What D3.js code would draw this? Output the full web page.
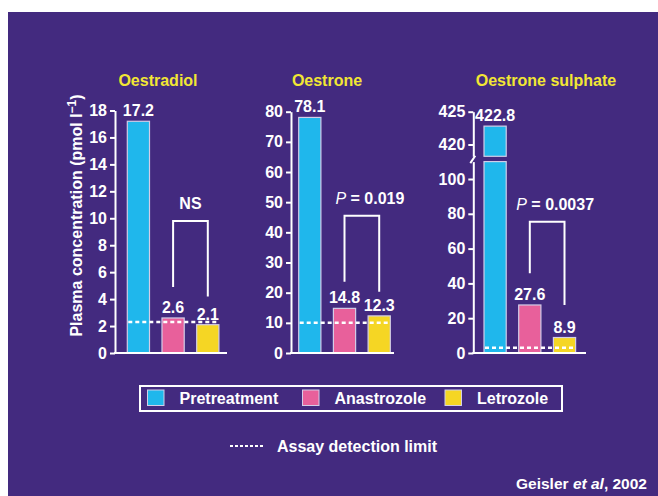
<!DOCTYPE html>
<html>
<head>
<meta charset="utf-8">
<script src="https://cdn.jsdelivr.net/npm/d3@7"></script>
<style>
  body { margin: 0; background: #fff; }
  text { font-family: "Liberation Sans", Arial, Helvetica, sans-serif; font-weight: bold; }
</style>
</head>
<body>
<svg id="chart" width="658" height="496"></svg>
<script>
// data
const categories = ["Pretreatment", "Anastrozole", "Letrozole"];
const hormones = ["Oestradiol", "Oestrone", "Oestrone sulphate"];
const oestradiol = [17.2, 2.6, 2.1];
const oestrone = [78.1, 14.8, 12.3];
const oestroneSulphate = [422.8, 27.6, 8.9];
const detectionLimit = [2.3, 10, 3];
const statLabels = ["NS", "0.019", "0.0037"];
const bracketTop = [9.8, 45.5, 75.5];
const bracketLegs = [[4.9, 4.2], [23.6, 20.3], [45.8, 27.6]];
const ticksOestradiol = [0, 2, 4, 6, 8, 10, 12, 14, 16, 18];
const ticksOestrone = [0, 10, 20, 30, 40, 50, 60, 70, 80];
const ticksSulphateLow = [0, 20, 40, 60, 80, 100];
const ticksSulphateHigh = [420, 425];

const colors = ["#1fb7ec", "#e8609b", "#f5d624"];
const bg = "#432a7f";

const svg = d3.select("#chart");
svg.append("rect").attr("x", 8).attr("y", 12).attr("width", 650).attr("height", 484).attr("fill", bg);

const y0 = 353;
// per panel layout
const layout = [
  { axisX: 115, barLeft: 127.3, baseEnd: 227, titleX: 158, y: d3.scaleLinear().domain([0, 18]).range([y0, 110.5]), ticks: ticksOestradiol, values: oestradiol },
  { axisX: 291, barLeft: 298.7, baseEnd: 394, titleX: 327, y: d3.scaleLinear().domain([0, 80]).range([y0, 111.7]), ticks: ticksOestrone, values: oestrone },
  { axisX: 473.3, barLeft: 484, baseEnd: 586, titleX: 546, y: d3.scaleLinear().domain([0, 110]).range([y0, 161.6]), ticks: ticksSulphateLow, values: oestroneSulphate,
    yHigh: d3.scaleLinear().domain([418.2, 425]).range([156.3, 111.7]), ticksHigh: ticksSulphateHigh }
];

function styleAxis(g) {
  g.select(".domain").attr("stroke", "#fff").attr("stroke-width", 2);
  g.selectAll(".tick line").attr("stroke", "#fff").attr("stroke-width", 2);
  g.selectAll(".tick text").attr("fill", "#fff").attr("font-size", "16px")
    .attr("font-family", "Liberation Sans, Arial, sans-serif").attr("font-weight", "bold");
}

layout.forEach(function(p, i) {
  const g = svg.append("g");
  const step = 34.7;
  const x = d3.scaleBand().domain(categories)
    .range([p.barLeft - 0.18 * step, p.barLeft - 0.18 * step + 3 * step])
    .paddingInner(0.36).paddingOuter(0.18);
  const yTop = function(v) { return (p.yHigh && v > p.y.domain()[1]) ? p.yHigh(v) : p.y(v); };

  // title
  g.append("text").attr("x", p.titleX).attr("y", 86).attr("text-anchor", "middle")
    .attr("fill", "#f2e634").attr("font-size", "16px").text(hormones[i]);

  // bars
  p.values.forEach(function(v, j) {
    if (p.yHigh && v > p.y.domain()[1]) {
      g.append("rect").attr("x", x(categories[j])).attr("width", x.bandwidth())
        .attr("y", p.y(p.y.domain()[1])).attr("height", y0 - p.y(p.y.domain()[1]))
        .attr("fill", colors[j]).attr("stroke", "#d2cde8").attr("stroke-width", 1.2);
      g.append("rect").attr("x", x(categories[j])).attr("width", x.bandwidth())
        .attr("y", p.yHigh(v)).attr("height", p.yHigh(p.yHigh.domain()[0]) - p.yHigh(v))
        .attr("fill", colors[j]).attr("stroke", "#d2cde8").attr("stroke-width", 1.2);
    } else {
      g.append("rect").attr("x", x(categories[j])).attr("width", x.bandwidth())
        .attr("y", p.y(v)).attr("height", y0 - p.y(v))
        .attr("fill", colors[j]).attr("stroke", "#d2cde8").attr("stroke-width", 1.2);
    }
    g.append("text").attr("x", x(categories[j]) + x.bandwidth() / 2).attr("y", yTop(v) - 5)
      .attr("text-anchor", "middle").attr("fill", "#fff").attr("font-size", "16px").text(v);
  });

  // detection limit
  g.append("line").attr("x1", x(categories[0]) + 1).attr("x2", x(categories[2]) + x.bandwidth())
    .attr("y1", p.y(detectionLimit[i])).attr("y2", p.y(detectionLimit[i]))
    .attr("stroke", "#fff").attr("stroke-width", 2.5).attr("stroke-dasharray", "4,3");

  // axes
  const ax = g.append("g").attr("transform", "translate(" + p.axisX + ",0)")
    .call(d3.axisLeft(p.y).tickValues(p.ticks).tickFormat(d3.format("d")).tickSize(5).tickSizeOuter(0).tickPadding(3));
  styleAxis(ax);
  if (p.yHigh) {
    const ax2 = g.append("g").attr("transform", "translate(" + p.axisX + ",0)")
      .call(d3.axisLeft(p.yHigh).tickValues(p.ticksHigh).tickFormat(d3.format("d")).tickSize(5).tickSizeOuter(0).tickPadding(3));
    styleAxis(ax2);
    g.append("line").attr("x1", p.axisX - 3).attr("x2", p.axisX + 2)
      .attr("y1", p.y(p.y.domain()[1]) + 1.5).attr("y2", p.yHigh(p.yHigh.domain()[0]) - 0.5)
      .attr("stroke", "#fff").attr("stroke-width", 2);
  }
  g.append("line").attr("x1", p.axisX - 1).attr("x2", p.baseEnd).attr("y1", y0).attr("y2", y0)
    .attr("stroke", "#fff").attr("stroke-width", 2);

  // bracket
  const bl = x(categories[1]) + x.bandwidth() / 2, br = x(categories[2]) + x.bandwidth() / 2;
  g.append("path").attr("fill", "none").attr("stroke", "#fff").attr("stroke-width", 2)
    .attr("d", "M" + bl + "," + p.y(bracketLegs[i][0]) + "V" + p.y(bracketTop[i]) + "H" + br + "V" + p.y(bracketLegs[i][1]));
  const st = g.append("text").attr("y", p.y(bracketTop[i]) - 11.5).attr("fill", "#fff")
    .attr("font-size", "16px").attr("text-anchor", "middle");
  if (statLabels[i] === "NS") {
    st.attr("x", (bl + br) / 2).text("NS");
  } else {
    st.attr("x", (bl + br) / 2 + 8);
    st.append("tspan").attr("font-style", "italic").attr("font-weight", "normal").text("P");
    st.append("tspan").text(" = " + statLabels[i]);
  }
});

// y axis title
const yt = svg.append("text").attr("transform", "translate(82,215.5) rotate(-90)")
  .attr("text-anchor", "middle").attr("fill", "#fff").attr("font-size", "16px");
yt.append("tspan").text("Plasma concentration (pmol l");
yt.append("tspan").attr("dy", -6).attr("font-size", "12px").text("\u22121");
yt.append("tspan").attr("dy", 6).text(")");

// legend
const legend = svg.append("g");
legend.append("rect").attr("x", 140).attr("y", 386).attr("width", 422).attr("height", 25)
  .attr("fill", "none").attr("stroke", "#fff").attr("stroke-width", 2);
const legendX = [147.5, 302.5, 445];
categories.forEach(function(c, j) {
  legend.append("rect").attr("x", legendX[j]).attr("y", 390).attr("width", 16.5).attr("height", 15.5)
    .attr("fill", colors[j]).attr("stroke", "#d2cde8").attr("stroke-width", 1);
  legend.append("text").attr("x", legendX[j] + 32).attr("y", 404).attr("fill", "#fff")
    .attr("font-size", "16px").text(c);
});
legend.append("line").attr("x1", 230).attr("x2", 265).attr("y1", 446).attr("y2", 446)
  .attr("stroke", "#fff").attr("stroke-width", 2).attr("stroke-dasharray", "3,2");
legend.append("text").attr("x", 277).attr("y", 451.5).attr("fill", "#fff").attr("font-size", "16px")
  .text("Assay detection limit");

// source
const src = svg.append("text").attr("x", 647).attr("y", 489).attr("text-anchor", "end")
  .attr("fill", "#fff").attr("font-size", "15.5px");
src.append("tspan").text("Geisler ");
src.append("tspan").attr("font-style", "italic").text("et al");
src.append("tspan").text(", 2002");
</script>
</body>
</html>
